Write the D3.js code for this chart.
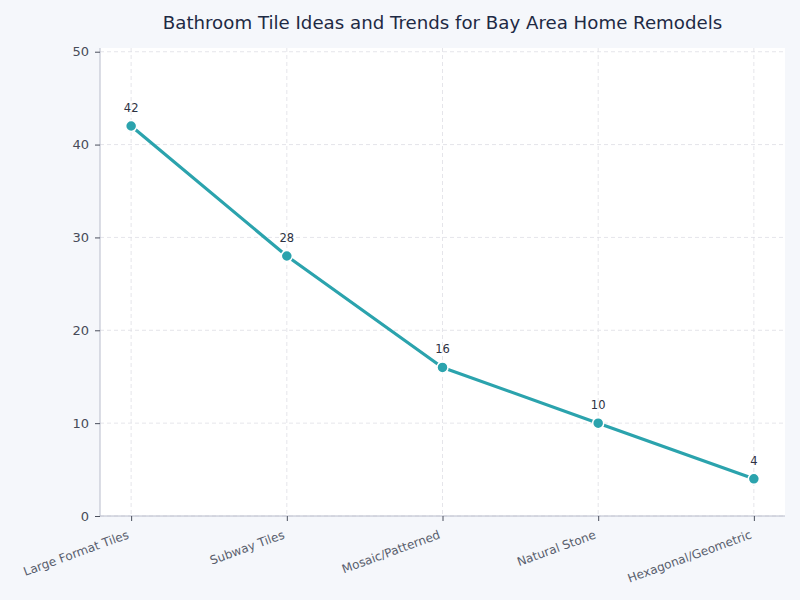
<!DOCTYPE html>
<html>
<head>
<meta charset="utf-8">
<script src="https://cdn.jsdelivr.net/npm/d3@7"></script>
<style>
  body { margin: 0; background: #f5f7fb; }
  svg { display: block; font-family: "DejaVu Sans", sans-serif; }
</style>
</head>
<body>
<div id="chart"></div>
<script>
const categories = ["Large Format Tiles", "Subway Tiles", "Mosaic/Patterned", "Natural Stone", "Hexagonal/Geometric"]
const values = [42, 28, 16, 10, 4]
const yTicks = [0, 10, 20, 30, 40, 50]
const title = "Bathroom Tile Ideas and Trends for Bay Area Home Remodels"

const width = 800, height = 600
const margin = {top: 48, right: 15, bottom: 84, left: 100}
const color = "#2ba3ad"

const svg = d3.select("#chart").append("svg")
  .attr("width", width)
  .attr("height", height)

svg.append("rect").attr("width", width).attr("height", height).attr("fill", "#f5f7fb")

const x = d3.scaleLinear()
  .domain([-0.2, categories.length - 1 + 0.2])
  .range([margin.left, width - margin.right])

const y = d3.scaleLinear()
  .domain([0, d3.max(values) * 1.2])
  .range([height - margin.bottom, margin.top])

// plot background
svg.append("rect")
  .attr("x", margin.left).attr("y", margin.top)
  .attr("width", width - margin.left - margin.right)
  .attr("height", height - margin.top - margin.bottom)
  .attr("fill", "#ffffff")

// grid
const grid = svg.append("g").attr("stroke", "#dedee4").attr("stroke-dasharray", "4,3").attr("stroke-width", 0.8)
grid.selectAll("line.h").data(yTicks).join("line")
  .attr("x1", margin.left).attr("x2", width - margin.right)
  .attr("y1", d => y(d)).attr("y2", d => y(d))
grid.selectAll("line.v").data(categories).join("line")
  .attr("x1", (d, i) => x(i)).attr("x2", (d, i) => x(i))
  .attr("y1", margin.top).attr("y2", height - margin.bottom)

// axes
const yAxis = svg.append("g")
  .attr("transform", `translate(${margin.left},0)`)
  .call(d3.axisLeft(y).tickValues(yTicks).tickSize(5).tickPadding(6))
  .attr("font-family", null).attr("font-size", null)
yAxis.selectAll("text").attr("font-size", 13).attr("fill", "#474b58")
yAxis.selectAll(".tick line").attr("stroke", "#4a4f5c")
yAxis.select(".domain").attr("stroke", "#b8bccb").attr("d", `M0,${margin.top}V${height - margin.bottom}`)

const xAxis = svg.append("g")
  .attr("transform", `translate(0,${height - margin.bottom})`)
  .call(d3.axisBottom(x).tickValues(d3.range(categories.length)).tickFormat(i => categories[i]).tickSize(5))
  .attr("font-family", null).attr("font-size", null)
xAxis.select(".domain").attr("stroke", "#b8bccb").attr("d", `M${margin.left},0H${width - margin.right}`)
xAxis.selectAll(".tick line").attr("stroke", "#4a4f5c")
xAxis.selectAll("text")
  .attr("font-size", 12)
  .attr("fill", "#5a5f6e")
  .attr("text-anchor", "end")
  .attr("y", 0)
  .attr("dy", 0)
  .attr("transform", "translate(-2,22) rotate(-20)")

// line
const line = d3.line().x((d, i) => x(i)).y(d => y(d))
svg.append("path")
  .attr("d", line(values))
  .attr("fill", "none")
  .attr("stroke", color)
  .attr("stroke-width", 3.2)
  .attr("stroke-linejoin", "round")

svg.append("g").selectAll("circle").data(values).join("circle")
  .attr("cx", (d, i) => x(i))
  .attr("cy", d => y(d))
  .attr("r", 5.5)
  .attr("fill", color)
  .attr("stroke", "#ffffff")
  .attr("stroke-width", 1.5)

svg.append("g").selectAll("text").data(values).join("text")
  .attr("x", (d, i) => x(i))
  .attr("y", d => y(d) - 14)
  .attr("text-anchor", "middle")
  .attr("font-size", 11.5)
  .attr("fill", "#2d3142")
  .text(d => d)

svg.append("text")
  .attr("x", (margin.left + width - margin.right) / 2)
  .attr("y", 29)
  .attr("text-anchor", "middle")
  .attr("font-size", 18.2)
  .attr("fill", "#1e2a44")
  .text(title)
</script>
</body>
</html>
